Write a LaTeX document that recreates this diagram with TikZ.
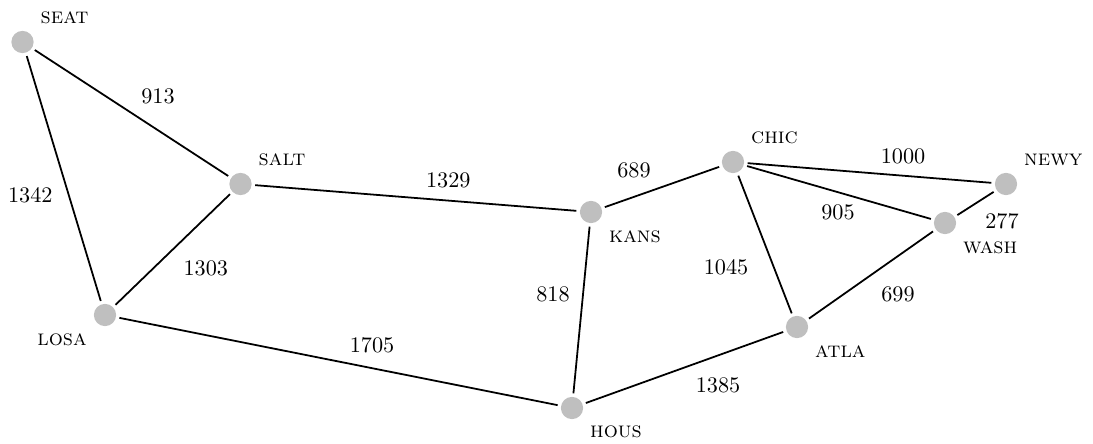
\documentclass[tikz,border=0pt]{standalone}
\begin{document}
\begin{tikzpicture}[x=0.45pt, y=-0.45pt,
  city/.style={circle, fill=black!25, minimum size=10pt, inner sep=0pt, outer sep=1.6pt},
  road/.style={line width=0.8pt, black},
  wt/.style={midway, inner sep=0pt, font=\normalsize}]
  \useasboundingbox (0,0) rectangle (1093,444);

  % cities
  \node[city, label={above right:\textsc{seat}}] (seat) at (22.5,42) {};
  \node[city, label={above right:\textsc{salt}}] (salt) at (240.5,184) {};
  \node[city, label={below left:\textsc{losa}}]  (losa) at (105,315) {};
  \node[city, label={below right:\textsc{kans}}] (kans) at (591,212) {};
  \node[city, label={below right:\textsc{hous}}] (hous) at (572,408) {};
  \node[city, label={above right:\textsc{chic}}] (chic) at (733,162) {};
  \node[city, label={below right:\textsc{atla}}] (atla) at (797,327) {};
  \node[city, label={above right:\textsc{newy}}] (newy) at (1006,184) {};
  \node[city, label={below right:\textsc{wash}}] (wash) at (945,223) {};

  % roads with distances
  \draw[road] (seat) -- node[wt, shift={(26.5,-16.5)}] {913}  (salt);
  \draw[road] (seat) -- node[wt, shift={(-33.5,16.5)}] {1342} (losa);
  \draw[road] (salt) -- node[wt, shift={(33,18.5)}]    {1303} (losa);
  \draw[road] (salt) -- node[wt, shift={(32.5,-17.5)}] {1329} (kans);
  \draw[road] (kans) -- node[wt, shift={(-28,-16.5)}]  {689}  (chic);
  \draw[road] (kans) -- node[wt, shift={(-28.5,-16)}]  {818}  (hous);
  \draw[road] (losa) -- node[wt, shift={(33.5,-16.5)}] {1705} (hous);
  \draw[road] (hous) -- node[wt, shift={(33.5,17.5)}]  {1385} (atla);
  \draw[road] (chic) -- node[wt, shift={(-39,22.5)}]   {1045} (atla);
  \draw[road] (chic) -- node[wt, shift={(33.5,-17)}]   {1000} (newy);
  \draw[road] (chic) -- node[wt, shift={(-1,19.5)}]    {905}  (wash);
  \draw[road] (atla) -- node[wt, shift={(27,19)}]      {699}  (wash);
  \draw[road] (wash) -- node[wt, shift={(26.5,18)}]    {277}  (newy);
\end{tikzpicture}
\end{document}
